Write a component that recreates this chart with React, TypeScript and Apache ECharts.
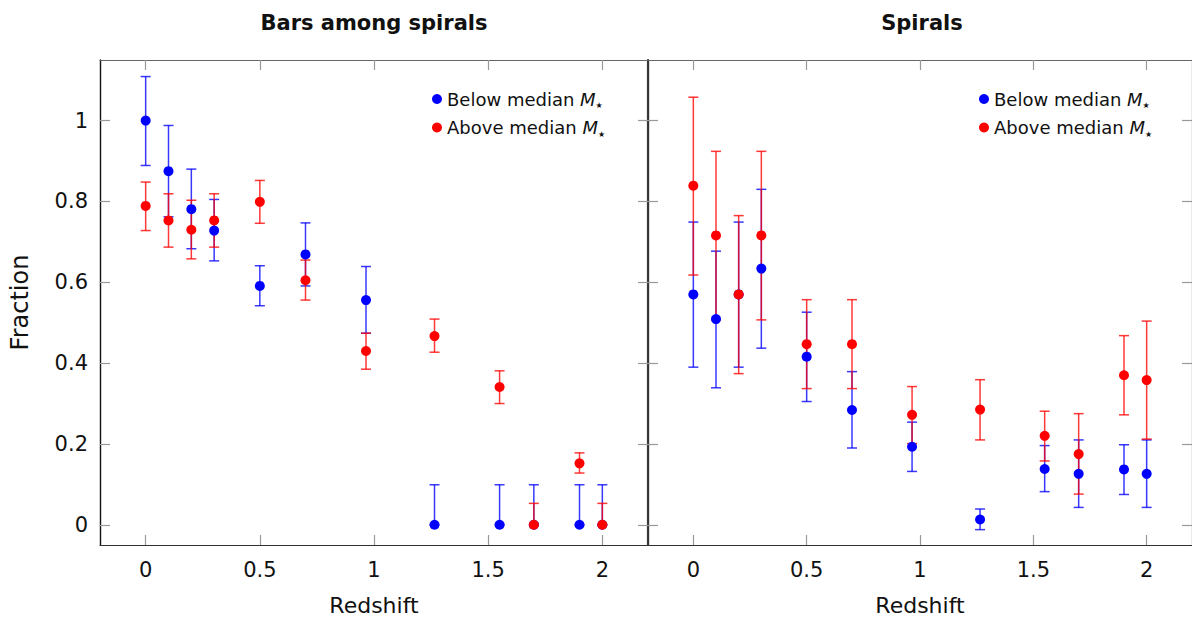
import React, { useEffect, useRef } from "react";
import * as echarts from "echarts";

const redshift = [0, 0.1, 0.2, 0.3, 0.5, 0.7, 0.965, 1.265, 1.55, 1.7, 1.9, 2.0];

// Bars among spirals
const barsBelowVal = [1.0, 0.875, 0.781, 0.728, 0.591, 0.669, 0.556, 0, 0, 0, 0, 0];
const barsBelowLow = [0.889, 0.762, 0.683, 0.653, 0.542, 0.591, 0.474, 0, 0, 0, 0, 0];
const barsBelowHigh = [1.109, 0.988, 0.88, 0.805, 0.641, 0.747, 0.639, 0.099, 0.099, 0.099, 0.099, 0.099];

const barsAboveVal = [0.789, 0.753, 0.73, 0.753, 0.799, 0.605, 0.43, 0.467, 0.341, 0, 0.152, 0];
const barsAboveLow = [0.728, 0.687, 0.658, 0.687, 0.746, 0.556, 0.385, 0.427, 0.3, 0, 0.128, 0];
const barsAboveHigh = [0.848, 0.819, 0.803, 0.819, 0.852, 0.655, 0.474, 0.509, 0.381, 0.053, 0.178, 0.053];

// Spirals
const spirBelowVal = [0.57, 0.509, 0.57, 0.634, 0.416, 0.284, 0.193, 0.013, 0.138, 0.126, 0.137, 0.126];
const spirBelowLow = [0.39, 0.339, 0.39, 0.437, 0.305, 0.19, 0.132, -0.012, 0.082, 0.043, 0.075, 0.043];
const spirBelowHigh = [0.749, 0.677, 0.749, 0.83, 0.526, 0.379, 0.254, 0.039, 0.196, 0.21, 0.198, 0.21];

const spirAboveVal = [0.839, 0.716, 0.57, 0.716, 0.447, 0.447, 0.272, 0.285, 0.22, 0.175, 0.37, 0.358];
const spirAboveLow = [0.618, 0.507, 0.374, 0.507, 0.337, 0.337, 0.201, 0.21, 0.158, 0.076, 0.272, 0.212];
const spirAboveHigh = [1.058, 0.924, 0.765, 0.924, 0.557, 0.557, 0.342, 0.359, 0.281, 0.275, 0.468, 0.504];

const xTicks = [0, 0.5, 1, 1.5, 2];
const yTicks = [0, 0.2, 0.4, 0.6, 0.8, 1];
const titles = ["Bars among spirals", "Spirals"];

const FONT = "DejaVu Sans";
const BLUE = "#0000ff";
const RED = "#ff0000";

function errSeries(name: string, lo: number[], hi: number[], color: string, gi: number) {
  return {
    type: "custom",
    name: name + "_err",
    xAxisIndex: gi * 2,
    yAxisIndex: gi * 2,
    encode: { x: 0, y: [1, 2] },
    data: redshift.map((x, i) => [x, lo[i], hi[i]]),
    silent: true,
    renderItem: (params: any, api: any) => {
      const x = api.value(0);
      const p1 = api.coord([x, api.value(1)]);
      const p2 = api.coord([x, api.value(2)]);
      const hw = 5;
      const style = { stroke: color, lineWidth: 1.5, opacity: 0.78 };
      return {
        type: "group",
        children: [
          { type: "line", shape: { x1: p1[0], y1: p1[1], x2: p2[0], y2: p2[1] }, style },
          { type: "line", shape: { x1: p1[0] - hw, y1: p1[1], x2: p1[0] + hw, y2: p1[1] }, style },
          { type: "line", shape: { x1: p2[0] - hw, y1: p2[1], x2: p2[0] + hw, y2: p2[1] }, style },
        ],
      };
    },
  };
}

function ptSeries(name: string, vals: number[], color: string, gi: number) {
  return {
    type: "scatter",
    name,
    xAxisIndex: gi * 2,
    yAxisIndex: gi * 2,
    symbol: "circle",
    symbolSize: 10,
    itemStyle: { color, opacity: 1 },
    data: redshift.map((x, i) => [x, vals[i]]),
  };
}

function xAxes(gi: number) {
  const base = {
    type: "value",
    gridIndex: gi,
    min: -0.2,
    max: 2.2,
    splitLine: { show: false },
    axisTick: { show: true, inside: true, length: 10, customValues: xTicks, lineStyle: { color: "#999", width: 1.2 } },
  };
  return [
    {
      ...base,
      position: "bottom",
      axisLine: { show: true, onZero: false, lineStyle: { color: "#333", width: 1.2 } },
      axisLabel: { customValues: xTicks, color: "#111", fontFamily: FONT, fontSize: 21, margin: 14 },
      name: "Redshift",
      nameLocation: "middle",
      nameGap: 49,
      nameTextStyle: { color: "#111", fontFamily: FONT, fontSize: 22 },
    },
    {
      ...base,
      position: "top",
      axisLine: { show: true, onZero: false, lineStyle: { color: "#666", width: 1.2 } },
      axisLabel: { show: false },
    },
  ];
}

function yAxes(gi: number) {
  const base = {
    type: "value",
    gridIndex: gi,
    min: -0.05,
    max: 1.15,
    splitLine: { show: false },
    axisTick: { show: true, inside: true, length: 10, customValues: yTicks, lineStyle: { color: "#999", width: 1.2 } },
  };
  return [
    {
      ...base,
      position: "left",
      axisLine: { show: true, onZero: false, lineStyle: { color: gi === 0 ? "#111" : "#333", width: gi === 0 ? 1.4 : 1.2 } },
      axisLabel:
        gi === 0
          ? { customValues: yTicks, color: "#111", fontFamily: FONT, fontSize: 21, margin: 12 }
          : { show: false },
      name: gi === 0 ? "Fraction" : "",
      nameLocation: "middle",
      nameGap: 68,
      nameTextStyle: { color: "#111", fontFamily: FONT, fontSize: 24 },
    },
    {
      ...base,
      position: "right",
      axisLine: { show: true, onZero: false, lineStyle: { color: "#3a3a3a", width: gi === 0 ? 2.2 : 1.2 } },
      axisLabel: { show: false },
    },
  ];
}

function legend(left: number) {
  return {
    left,
    top: 85,
    orient: "vertical",
    icon: "circle",
    itemWidth: 10,
    itemHeight: 10,
    itemGap: 9,
    data: ["below", "above"],
    formatter: (name: string) =>
      (name === "below" ? "{a|Below median }" : "{a|Above median }") + "{m|M}{s|★}",
    textStyle: {
      fontFamily: FONT,
      fontSize: 18,
      color: "#111",
      rich: {
        a: { fontFamily: FONT, fontSize: 18, color: "#111", lineHeight: 21 },
        m: { fontFamily: FONT, fontSize: 18, fontStyle: "italic", color: "#111", lineHeight: 21 },
        s: { fontFamily: FONT, fontSize: 8, color: "#111", verticalAlign: "bottom", lineHeight: 12 },
      },
    },
  };
}

export default function App() {
  const ref = useRef<HTMLDivElement>(null);
  useEffect(() => {
    if (!ref.current) return;
    const chart = echarts.init(ref.current, null, { renderer: "svg" });
    chart.setOption({
      animation: false,
      backgroundColor: "#ffffff",
      grid: [
        { left: 100, top: 60, width: 548, height: 486 },
        { left: 648, top: 60, width: 548, height: 486 },
      ],
      xAxis: [...xAxes(0), ...xAxes(1)],
      yAxis: [...yAxes(0), ...yAxes(1)],
      legend: [legend(427), legend(974)],
      graphic: [
        {
          type: "text",
          x: 374,
          y: 23,
          style: { text: titles[0], font: `bold 21px "${FONT}"`, fill: "#111", textAlign: "center", textVerticalAlign: "middle" },
        },
        {
          type: "text",
          x: 922,
          y: 23,
          style: { text: titles[1], font: `bold 21px "${FONT}"`, fill: "#111", textAlign: "center", textVerticalAlign: "middle" },
        },
      ],
      series: [
        errSeries("below", barsBelowLow, barsBelowHigh, BLUE, 0),
        ptSeries("below", barsBelowVal, BLUE, 0),
        errSeries("above", barsAboveLow, barsAboveHigh, RED, 0),
        ptSeries("above", barsAboveVal, RED, 0),
        errSeries("below", spirBelowLow, spirBelowHigh, BLUE, 1),
        ptSeries("below", spirBelowVal, BLUE, 1),
        errSeries("above", spirAboveLow, spirAboveHigh, RED, 1),
        ptSeries("above", spirAboveVal, RED, 1),
      ],
    });
    return () => chart.dispose();
  }, []);
  return (
    <div
      ref={ref}
      style={{ position: "fixed", left: 0, top: 0, width: 1192, height: 621, background: "#fff" }}
    />
  );
}
